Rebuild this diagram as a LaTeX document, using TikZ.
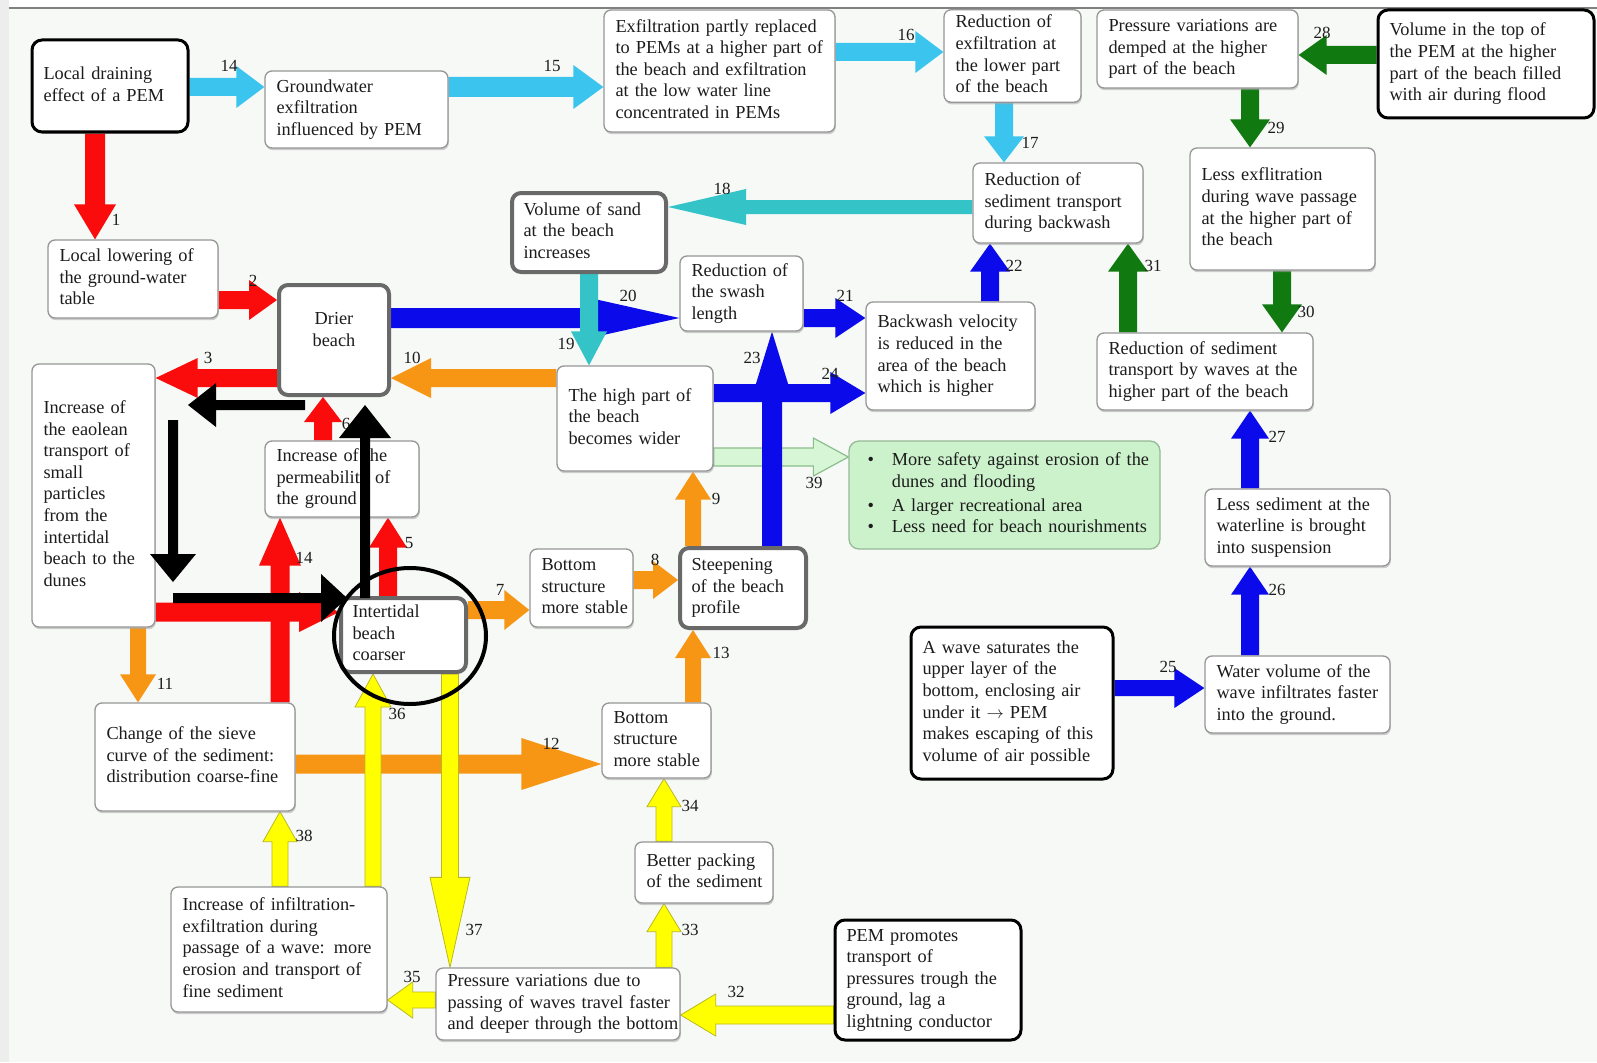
\documentclass[tikz,border=0pt]{standalone}
\usepackage{fontspec}
\setmainfont{Liberation Serif}
\usetikzlibrary{calc,shadows}
\definecolor{cbg}{RGB}{246,249,246}
\definecolor{cbord}{RGB}{150,150,150}
\definecolor{cgraybord}{RGB}{105,105,105}
\definecolor{ctext}{RGB}{28,28,28}
\definecolor{ccyan}{RGB}{58,196,238}
\definecolor{cteal}{RGB}{52,196,200}
\definecolor{cblue}{RGB}{10,10,235}
\definecolor{cred}{RGB}{250,12,12}
\definecolor{corange}{RGB}{246,150,20}
\definecolor{cgreen}{RGB}{16,122,16}
\definecolor{cyellow}{RGB}{255,255,0}
\definecolor{cyelbord}{RGB}{185,185,30}
\definecolor{cpale}{RGB}{214,246,214}
\definecolor{cpalebord}{RGB}{140,190,140}
\definecolor{cgbox}{RGB}{204,242,204}
\definecolor{cgboxbord}{RGB}{150,185,150}
\pgfdeclarelayer{back}
\pgfdeclarelayer{arrowlayer}
\pgfdeclarelayer{front}
\pgfsetlayers{back,arrowlayer,main,front}
\tikzset{
 box/.style={draw=cbord, line width=1.3pt, rounded corners=7pt, fill=white, inner xsep=11pt, inner ysep=3pt, text=ctext, font={\fontsize{18.3}{21.6}\selectfont}},
 shad/.style={drop shadow={shadow xshift=0.8pt, shadow yshift=-2.2pt, fill=black!35, opacity=0.55}},
 blackbox/.style={draw=black, line width=3pt, rounded corners=10pt},
 graybox/.style={draw=cgraybord, line width=4pt, rounded corners=9pt},
 greenbox/.style={fill=cgbox, draw=cgboxbord, rounded corners=10pt},
 lbl/.style={inner sep=0pt, text=ctext, font={\fontsize{17}{20}\selectfont}},
 ared/.style={fill=cred, draw=none},
 aorange/.style={fill=corange, draw=none},
 ablue/.style={fill=cblue, draw=none},
 acyan/.style={fill=ccyan, draw=none},
 ateal/.style={fill=cteal, draw=none},
 agreen/.style={fill=cgreen, draw=none},
 ayellow/.style={fill=cyellow, draw=cyelbord, line width=0.8pt},
 apale/.style={fill=cpale, draw=cpalebord, line width=1.2pt},
 ablack/.style={fill=black, draw=none},
}
% block arrow: style, from, to, half shaft, half head, head length
\newcommand\blk[6]{%
  \coordinate (bkC) at ($(#3)!#6!(#2)$);
  \filldraw[#1] ($(#2)!#4!90:(#3)$) -- ($(bkC)!#4!90:(#3)$) -- ($(bkC)!#5!90:(#3)$) -- (#3) -- ($(bkC)!#5!-90:(#3)$) -- ($(bkC)!#4!-90:(#3)$) -- ($(#2)!#4!-90:(#3)$) -- cycle;}
\newcommand\varr[7]{%
  \coordinate (arX) at (#4,0);
  \coordinate (arS) at (#2 -| arX);
  \coordinate (arE) at (#3 -| arX);
  \blk{#1}{arS}{arE}{#5pt}{#6pt}{#7pt}}
\newcommand\harr[7]{%
  \coordinate (arY) at (0,#4);
  \coordinate (arS) at (#2 |- arY);
  \coordinate (arE) at (#3 |- arY);
  \blk{#1}{arS}{arE}{#5pt}{#6pt}{#7pt}}
\newcommand\bx[7][shad]{%
  \pgfmathsetmacro\bxw{#5-#3}%
  \pgfmathsetmacro\bxh{#6-#4}%
  \pgfmathsetmacro\bxt{#5-#3-23}%
  \node[box,#1,minimum width=\bxw pt,minimum height=\bxh pt,text width=\bxt pt,align=left] (#2) at ({(#3+#5)/2},{(#4+#6)/2}) {\noindent\begin{tabular}{@{}l@{}}#7\end{tabular}};}
\begin{document}
\begin{tikzpicture}[x=1pt,y=-1pt]
\useasboundingbox (0,0) rectangle (1597,1062);
\begin{pgfonlayer}{back}
\fill[cbg] (0,0) rectangle (1597,1062);
\fill[white] (0,0) rectangle (1597,7);
\fill[black!7] (0,0) rectangle (9,1062);
\draw[black!50, line width=1.5pt] (9,8) -- (1597,8);
\end{pgfonlayer}

% ---------- boxes ----------
\bx[blackbox]{n1}{32}{40}{188}{132}{Local draining\\effect of a PEM}
\bx{n2}{265}{71}{448}{148}{Groundwater\\exfiltration\\influenced by PEM}
\bx{n3}{604}{10}{835}{132}{Exfiltration partly replaced\\to PEMs at a higher part of\\the beach and exfiltration\\at the low water line\\concentrated in PEMs}
\bx{n4}{944}{10}{1081}{102}{Reduction of\\exfiltration at\\the lower part\\of the beach}
\bx{n5}{1097}{10}{1298}{88}{Pressure variations are\\demped at the higher\\part of the beach}
\bx[blackbox]{n6}{1378}{10}{1594}{118}{Volume in the top of\\the PEM at the higher\\part of the beach filled\\with air during flood}
\bx{n7}{973}{163}{1143}{243}{Reduction of\\sediment transport\\during backwash}
\bx{n8}{1190}{148}{1375}{270}{Less exflitration\\during wave passage\\at the higher part of\\the beach}
\bx[graybox]{n9}{512}{193}{666}{272}{Volume of sand\\at the beach\\increases}
\bx{n10}{48}{240}{218}{318}{Local lowering of\\the ground-water\\table}
\node[box,graybox,minimum width=110pt,minimum height=110pt,align=center] (n11) at (334,340) {Drier\\beach\\~};
\bx{n12}{680}{256}{803}{331}{Reduction of\\the swash\\length}
\bx{n13}{866}{302}{1035}{410}{Backwash velocity\\is reduced in the\\area of the beach\\which is higher}
\bx{n14}{1097}{333}{1313}{410}{Reduction of sediment\\transport by waves at the\\higher part of the beach}
\bx{n15}{32}{364}{155}{627}{Increase of\\the eaolean\\transport of\\small\\particles\\from the\\intertidal\\beach to the\\dunes}
\bx{n16}{557}{366}{713}{471}{The high part of\\the beach\\becomes wider}
\bx{n17}{265}{441}{419}{517}{Increase of the\\permeability of\\the ground}
\bx[greenbox]{ng}{849}{441}{1160}{549}{\hspace{7pt}\begin{tabular}{@{}l@{\hspace{18pt}}l@{}}\textbullet & More safety against erosion of the\\ & dunes and flooding\\[2pt] \textbullet & A larger recreational area\\ \textbullet & Less need for beach nourishments\end{tabular}}
\bx{n19}{1205}{489}{1390}{566}{Less sediment at the\\waterline is brought\\into suspension}
\bx{n20}{530}{549}{633}{627}{Bottom\\structure\\more stable}
\bx[graybox]{n21}{680}{548}{806}{628}{Steepening\\of the beach\\profile}
\bx[graybox]{n22}{341}{598}{466}{672}{Intertidal\\beach\\coarser}
\bx[blackbox]{n23}{911}{627}{1113}{779}{A wave saturates the\\upper layer of the\\bottom, enclosing air\\under it $\rightarrow$ PEM\\makes escaping of this\\volume of air possible}
\bx{n24}{1205}{656}{1390}{733}{Water volume of the\\wave infiltrates faster\\into the ground.}
\bx{n25}{95}{703}{295}{811}{Change of the sieve\\curve of the sediment:\\distribution coarse-fine}
\bx{n26}{602}{703}{711}{778}{Bottom\\structure\\more stable}
\bx{n27}{635}{842}{773}{903}{Better packing\\of the sediment}
\bx{n28}{171}{887}{387}{1012}{Increase of infiltration-\\exfiltration during\\passage of a wave: more\\erosion and transport of\\fine sediment}
\bx{n29}{436}{968}{680}{1040}{Pressure variations due to\\passing of waves travel faster\\and deeper through the bottom}
\bx[blackbox]{n30}{835}{920}{1021}{1040}{PEM promotes\\transport of\\pressures trough the\\ground, lag a\\lightning conductor}

% ---------- block arrows ----------
\begin{pgfonlayer}{arrowlayer}
\varr{ared}{n1.south}{n10.north}{95}{10}{21}{35}
\harr{ared}{n10.east}{n11.west}{300}{9}{20}{28}
\harr{ared}{n11.west}{n15.east}{378}{9}{20}{42}
\harr{ared}{n15.east}{n22.west}{612}{9.5}{20}{40}
\varr{ared}{n25.north}{n17.south}{280}{9.5}{21}{48}
\varr{ared}{n22.north}{n17.south}{388}{9}{19}{30}
\varr{ared}{n17.north}{n11.south}{323}{9}{19}{25}
\harr{aorange}{n22.east}{n20.west}{610}{9}{20}{25}
\harr{aorange}{n20.east}{n21.west}{580}{9}{19}{25}
\varr{aorange}{n21.north}{n16.south}{693}{8}{18}{28}
\harr{aorange}{n16.west}{n11.east}{378}{9}{20}{40}
\varr{aorange}{n15.south}{n25.north}{138}{8}{18}{28}
\harr{aorange}{n25.east}{n26.west}{764}{9.5}{26}{80}
\varr{aorange}{n26.north}{n21.south}{693}{8}{18}{28}
\harr{acyan}{n1.east}{n2.west}{87}{9}{21}{28}
\harr{acyan}{n2.east}{n3.west}{87}{10}{22}{30}
\harr{acyan}{n3.east}{n4.west}{52}{9}{21}{28}
\varr{acyan}{n4.south}{n7.north}{1004}{9}{20}{26}
\harr{ateal}{n7.west}{n9.east}{207}{7}{18}{78}
\harr{ablue}{n11.east}{n12.west}{318}{10}{19}{85}
\varr{ateal}{n9.south}{n16.north}{589}{9}{18}{34}
\harr{ablue}{n12.east}{n13.west}{318}{9}{20}{30}
\varr{ablue}{n13.north}{n7.south}{990}{9}{20}{28}
\harr{apale}{n16.east}{ng.west}{457}{9}{19}{35}
\harr{ablue}{n16.east}{n13.west}{393}{9}{21}{35}
\varr{ablue}{n21.north}{n12.south}{772}{10}{20}{65}
\harr{ablue}{n23.east}{n24.west}{688}{8}{20}{30}
\varr{ablue}{n24.north}{n19.south}{1250}{9}{19}{28}
\varr{ablue}{n19.north}{n14.south}{1250}{9}{19}{28}
\harr{agreen}{n6.west}{n5.east}{55}{9}{20}{28}
\varr{agreen}{n5.south}{n8.north}{1250}{9}{20}{28}
\varr{agreen}{n8.south}{n14.north}{1282}{9}{20}{28}
\varr{agreen}{n14.north}{n7.south}{1128}{9}{20}{28}
\harr{ayellow}{n30.west}{n29.east}{1015}{9}{21}{35}
\varr{ayellow}{n29.north}{n27.south}{664}{8}{17}{28}
\varr{ayellow}{n27.north}{n26.south}{664}{8}{17}{28}
\harr{ayellow}{n29.west}{n28.east}{1000}{8}{18}{25}
\varr{ayellow}{n28.north}{n22.south}{373}{8}{18}{33}
\varr{ayellow}{n22.south}{n29.north}{450}{8.5}{20}{90}
\varr{ayellow}{n28.north}{n25.south}{280}{8}{17}{30}
\end{pgfonlayer}

% ---------- labels ----------
\node[lbl] (l1) at (116,220) {1};
\node[lbl] (l2) at (253,281) {2};
\node[lbl] (l3) at (208,358) {3};
\node[lbl] (l4) at (304,558) {14};
\node[lbl] (l5) at (409,543) {5};
\node[lbl] (l6) at (346,424) {6};
\node[lbl] (l7) at (500,590) {7};
\node[lbl] (l8) at (655,560) {8};
\node[lbl] (l9) at (716,499) {9};
\node[lbl] (l10) at (412,358) {10};
\node[lbl] (l11) at (165,684) {11};
\node[lbl] (l12) at (551,744) {12};
\node[lbl] (l13) at (721,653) {13};
\node[lbl] (l14) at (229,66) {14};
\node[lbl] (l15) at (552,66) {15};
\node[lbl] (l16) at (906,35) {16};
\node[lbl] (l17) at (1030,143) {17};
\node[lbl] (l18) at (722,189) {18};
\node[lbl] (l19) at (566,344) {19};
\node[lbl] (l20) at (628,296) {20};
\node[lbl] (l21) at (845,296) {21};
\node[lbl] (l22) at (1014,266) {22};
\node[lbl] (l23) at (752,358) {23};
\node[lbl] (l24) at (830,374) {24};
\node[lbl] (l25) at (1168,667) {25};
\node[lbl] (l26) at (1277,590) {26};
\node[lbl] (l27) at (1277,437) {27};
\node[lbl] (l28) at (1322,33) {28};
\node[lbl] (l29) at (1276,128) {29};
\node[lbl] (l30) at (1306,312) {30};
\node[lbl] (l31) at (1153,266) {31};
\node[lbl] (l32) at (736,992) {32};
\node[lbl] (l33) at (690,930) {33};
\node[lbl] (l34) at (690,806) {34};
\node[lbl] (l35) at (412,977) {35};
\node[lbl] (l36) at (397,714) {36};
\node[lbl] (l37) at (474,930) {37};
\node[lbl] (l38) at (304,836) {38};
\node[lbl] (l39) at (814,483) {39};

% ---------- black annotations ----------
\begin{pgfonlayer}{front}
\coordinate (k1s) at (305,405); \coordinate (k1e) at (188,405);
\blk{ablack}{k1s}{k1e}{5pt}{22pt}{28pt}
\coordinate (k2s) at (173,420); \coordinate (k2e) at (173,582);
\blk{ablack}{k2s}{k2e}{5pt}{23pt}{28pt}
\coordinate (k3s) at (173,598); \coordinate (k3e) at (347,598);
\blk{ablack}{k3s}{k3e}{5pt}{24pt}{26pt}
\coordinate (k4s) at (365,598); \coordinate (k4e) at (365,405);
\blk{ablack}{k4s}{k4e}{5pt}{26pt}{33pt}
\draw[line width=4pt] (410,636) ellipse [x radius=76, y radius=68];
\end{pgfonlayer}
\end{tikzpicture}
\end{document}
